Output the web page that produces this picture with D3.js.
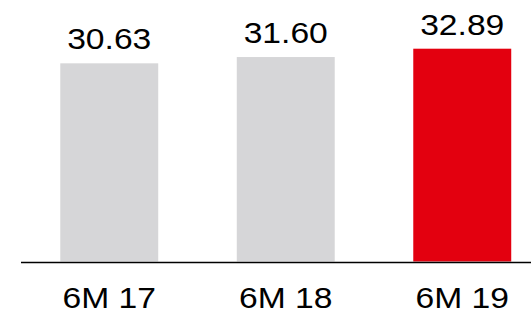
<!DOCTYPE html>
<html>
<head>
<meta charset="utf-8">
<script src="https://cdn.jsdelivr.net/npm/d3@7"></script>
<style>
  body { margin: 0; background: #fff; }
  svg { display: block; }
  text { font-family: Arial, "Liberation Sans", sans-serif; }
</style>
</head>
<body>
<div id="chart"></div>
<script>
var categories = ["6M 17", "6M 18", "6M 19"];
var values = [30.63, 31.6, 32.89];
var labels = ["30.63", "31.60", "32.89"];

var width = 531, height = 312;
var baseline = 261.5;

var svg = d3.select("#chart").append("svg")
  .attr("width", width)
  .attr("height", height);

var x = d3.scaleBand()
  .domain(categories)
  .range([21, 550.5])
  .paddingInner(0.445)
  .paddingOuter(0.2225);

var y = d3.scaleLinear()
  .domain([0, 40])
  .range([baseline, baseline - 40 * 6.47]);

// bars, last one highlighted
svg.selectAll("rect")
  .data(values)
  .enter()
  .append("rect")
  .attr("x", function(d, i) { return x(categories[i]); })
  .attr("y", function(d) { return y(d); })
  .attr("width", x.bandwidth())
  .attr("height", function(d) { return y(0) - y(d); })
  .attr("fill", function(d, i) { return i == values.length - 1 ? "#e3000f" : "#d6d6d8"; });

// baseline
svg.append("line")
  .attr("x1", 21).attr("x2", width)
  .attr("y1", 262.5).attr("y2", 262.5)
  .attr("stroke", "#000")
  .attr("stroke-width", 1.5);

// the text in the picture looks stretched sideways a bit
var stretch = 1.16;

svg.selectAll(".value")
  .data(values)
  .enter()
  .append("text")
  .attr("class", "value")
  .attr("text-anchor", "middle")
  .attr("font-size", 29)
  .attr("fill", "#000")
  .attr("transform", function(d, i) {
    var cx = x(categories[i]) + x.bandwidth() / 2;
    return "translate(" + cx + "," + (y(d) - 14) + ") scale(" + stretch + ",1)";
  })
  .text(function(d, i) { return labels[i]; });

svg.selectAll(".cat")
  .data(categories)
  .enter()
  .append("text")
  .attr("class", "cat")
  .attr("text-anchor", "middle")
  .attr("font-size", 29)
  .attr("fill", "#000")
  .attr("transform", function(d) {
    var cx = x(d) + x.bandwidth() / 2;
    return "translate(" + cx + ",307.7) scale(" + stretch + ",1)";
  })
  .text(function(d) { return d; });
</script>
</body>
</html>
